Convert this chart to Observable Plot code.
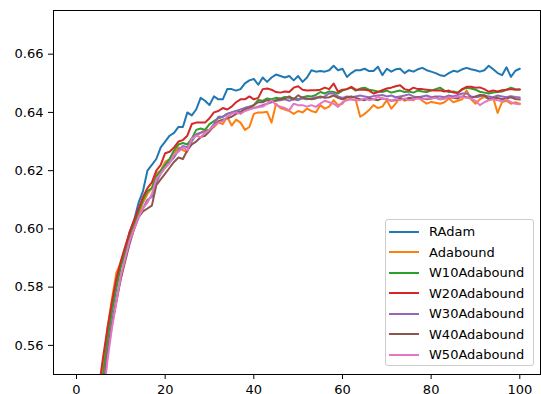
<!DOCTYPE html>
<html><head><meta charset="utf-8">
<script src="https://cdn.jsdelivr.net/npm/d3@7"></script>
<script src="https://cdn.jsdelivr.net/npm/@observablehq/plot@0.6"></script>
<style>
body{margin:0;background:#fff;}
#wrap{position:relative;width:541px;height:394px;overflow:hidden;font-family:"DejaVu Sans",sans-serif;}
#legend{position:absolute;left:385px;top:219px;width:147px;height:145px;border:1px solid #cccccc;border-radius:3px;background:rgba(255,255,255,0.8);padding:0;box-sizing:content-box;}
.row{position:absolute;left:3px;height:20px;display:flex;align-items:center;font-size:13px;color:#000;white-space:nowrap;}
.sw{width:30px;height:2px;margin-right:10px;}
</style>
</head><body><div id="wrap"></div>
<script>
const epochs = d3.range(0, 101);
const seriesNames = ["RAdam","Adabound","W10Adabound","W20Adabound","W30Adabound","W40Adabound","W50Adabound"];
const colors = ["#1f77b4","#ff7f0e","#2ca02c","#d62728","#9467bd","#8c564b","#e377c2"];
const xTicks = [0,20,40,60,80,100];
const yTicks = [0.56,0.58,0.60,0.62,0.64,0.66];

const radam = [0.30,0.40,0.46,0.50,0.52,0.538,0.551,0.563,0.572,0.580,0.588,0.593,0.599,0.603,0.609,0.613,0.620,0.622,0.624,0.628,0.630,0.632,0.633,0.635,0.635,0.640,0.639,0.641,0.645,0.644,0.6425,0.6455,0.6445,0.6445,0.648,0.648,0.6475,0.648,0.650,0.651,0.6515,0.6495,0.652,0.6505,0.652,0.653,0.6525,0.652,0.6525,0.651,0.6525,0.6505,0.652,0.6545,0.654,0.6542,0.654,0.6545,0.656,0.6545,0.655,0.6522,0.6535,0.6545,0.6545,0.655,0.6542,0.6542,0.6557,0.6528,0.655,0.654,0.6548,0.655,0.6535,0.6545,0.654,0.6548,0.6553,0.6545,0.654,0.6535,0.6528,0.6525,0.6535,0.6543,0.654,0.6548,0.6553,0.6548,0.6545,0.654,0.6545,0.656,0.6548,0.6535,0.6528,0.6555,0.6522,0.6543,0.655];
const adabound = [0.31,0.41,0.47,0.505,0.525,0.54,0.553,0.566,0.576,0.585,0.5885,0.590,0.597,0.601,0.605,0.609,0.612,0.614,0.619,0.620,0.623,0.624,0.626,0.628,0.627,0.6265,0.631,0.632,0.633,0.634,0.634,0.635,0.6365,0.636,0.6385,0.6355,0.6375,0.6365,0.634,0.635,0.6395,0.640,0.640,0.6402,0.6365,0.643,0.6415,0.641,0.6405,0.6395,0.6405,0.640,0.6413,0.6405,0.640,0.6425,0.6413,0.642,0.6442,0.6425,0.643,0.6453,0.6445,0.6442,0.6385,0.6395,0.6408,0.6425,0.6415,0.642,0.6442,0.6413,0.643,0.6453,0.644,0.6445,0.6442,0.6453,0.644,0.643,0.6436,0.6433,0.643,0.6435,0.6448,0.6435,0.644,0.6445,0.6476,0.6445,0.643,0.6445,0.6453,0.6448,0.645,0.6398,0.6436,0.644,0.643,0.6435,0.643];
const w10 = [0.30,0.40,0.46,0.50,0.52,0.537,0.550,0.562,0.572,0.580,0.587,0.592,0.598,0.602,0.606,0.610,0.613,0.614,0.618,0.620,0.622,0.624,0.627,0.629,0.6295,0.629,0.631,0.634,0.6345,0.634,0.636,0.637,0.638,0.6385,0.6395,0.640,0.6405,0.640,0.6415,0.642,0.6425,0.6443,0.644,0.6448,0.6445,0.645,0.6448,0.6453,0.645,0.6448,0.6445,0.6452,0.6456,0.6455,0.646,0.647,0.6465,0.6472,0.647,0.6465,0.6475,0.648,0.6485,0.6475,0.6482,0.6485,0.6478,0.6475,0.6472,0.647,0.6475,0.6468,0.6472,0.6475,0.647,0.6472,0.6468,0.6475,0.6472,0.647,0.6475,0.648,0.6485,0.6475,0.647,0.6472,0.6468,0.6478,0.6485,0.6482,0.6478,0.6471,0.6468,0.6465,0.6468,0.647,0.6472,0.6478,0.6485,0.648,0.6479];
const w20 = [0.32,0.42,0.48,0.51,0.53,0.545,0.556,0.566,0.575,0.583,0.589,0.594,0.599,0.603,0.607,0.611,0.614,0.616,0.620,0.622,0.626,0.6265,0.628,0.630,0.6305,0.632,0.636,0.6365,0.6365,0.6365,0.638,0.640,0.6405,0.6415,0.641,0.642,0.6435,0.6445,0.6445,0.6455,0.6445,0.645,0.648,0.6482,0.6478,0.647,0.6468,0.6472,0.647,0.6485,0.649,0.6478,0.6475,0.6476,0.6476,0.6478,0.6485,0.648,0.6499,0.6471,0.6478,0.648,0.6488,0.6478,0.6478,0.6478,0.6475,0.6465,0.647,0.6476,0.6482,0.6485,0.649,0.6493,0.648,0.6476,0.6485,0.648,0.648,0.6478,0.6476,0.6475,0.6476,0.6472,0.6475,0.6468,0.6467,0.648,0.6488,0.6488,0.6485,0.6486,0.648,0.6471,0.6475,0.6472,0.6476,0.6478,0.648,0.6478,0.6479];
const w30 = [0.29,0.39,0.45,0.49,0.512,0.53,0.545,0.558,0.568,0.576,0.583,0.590,0.596,0.600,0.604,0.607,0.610,0.611,0.616,0.619,0.621,0.623,0.6245,0.627,0.6285,0.628,0.630,0.6325,0.633,0.6335,0.634,0.636,0.6385,0.6385,0.6395,0.640,0.6405,0.641,0.6415,0.642,0.6415,0.642,0.6425,0.643,0.6435,0.644,0.6442,0.6445,0.644,0.6445,0.6442,0.6448,0.6445,0.6448,0.6452,0.645,0.6455,0.6465,0.6465,0.6455,0.645,0.6455,0.6452,0.6455,0.6458,0.6455,0.6452,0.6456,0.6458,0.646,0.6455,0.6458,0.6452,0.6455,0.6458,0.6462,0.6455,0.6452,0.6455,0.6458,0.6452,0.6455,0.6455,0.6452,0.6458,0.6455,0.646,0.6465,0.6465,0.6455,0.6452,0.6455,0.6458,0.6455,0.6452,0.6458,0.6455,0.6452,0.6456,0.6453,0.6451];
const w40 = [0.29,0.39,0.45,0.49,0.51,0.528,0.543,0.557,0.567,0.575,0.583,0.589,0.595,0.600,0.604,0.606,0.607,0.608,0.615,0.617,0.619,0.621,0.623,0.6245,0.624,0.627,0.629,0.630,0.6315,0.632,0.6335,0.6355,0.637,0.6375,0.638,0.6385,0.6395,0.640,0.641,0.6415,0.6425,0.6435,0.6435,0.6442,0.6438,0.6442,0.6445,0.6448,0.6455,0.6445,0.6459,0.645,0.6448,0.6445,0.6448,0.6455,0.645,0.6452,0.6458,0.645,0.6445,0.6452,0.6455,0.645,0.6445,0.6442,0.6448,0.6445,0.6442,0.6448,0.6445,0.644,0.6442,0.6448,0.6445,0.645,0.6448,0.6452,0.6448,0.6445,0.6448,0.6452,0.6445,0.6448,0.6452,0.645,0.6448,0.6455,0.6452,0.645,0.6455,0.646,0.6459,0.6445,0.6448,0.645,0.6445,0.6448,0.6452,0.6446,0.6444];
const w50 = [0.29,0.39,0.45,0.49,0.51,0.527,0.541,0.555,0.566,0.575,0.584,0.590,0.596,0.600,0.604,0.607,0.609,0.612,0.617,0.619,0.621,0.6225,0.6255,0.6265,0.628,0.627,0.631,0.632,0.6315,0.633,0.634,0.6355,0.6365,0.637,0.6385,0.6395,0.640,0.6395,0.6405,0.641,0.6415,0.6418,0.642,0.643,0.6442,0.6425,0.642,0.6415,0.6408,0.643,0.6425,0.6425,0.642,0.6425,0.6419,0.643,0.644,0.6435,0.643,0.6419,0.6435,0.6442,0.6445,0.6442,0.6442,0.6448,0.6442,0.6445,0.6453,0.6448,0.6445,0.644,0.6445,0.6442,0.6448,0.6442,0.6445,0.6448,0.6445,0.6448,0.6448,0.645,0.6445,0.6448,0.6452,0.645,0.6455,0.6453,0.645,0.6448,0.644,0.6425,0.6435,0.6442,0.6445,0.6442,0.6438,0.6445,0.6435,0.643,0.6428];

const seriesValues = [radam, adabound, w10, w20, w30, w40, w50];
const data = seriesNames.flatMap((name, i) => seriesValues[i].map((v, j) => ({epoch: epochs[j], acc: v, series: name})));

const plot = Plot.plot({
  width: 541, height: 394,
  marginLeft: 53, marginRight: 1, marginTop: 10, marginBottom: 20,
  style: {fontFamily: "DejaVu Sans", fontSize: "13px", color: "black", background: "white", overflow: "visible"},
  x: {domain: [-5.19, 104.67]},
  y: {domain: [0.55, 0.675]},
  color: {domain: seriesNames, range: colors},
  marks: [
    Plot.line(data, {x: "epoch", y: "acc", z: "series", stroke: "series", strokeWidth: 2, clip: true}),
    Plot.frame({stroke: "black", strokeWidth: 1}),
    Plot.axisX({ticks: xTicks, tickSize: 5, tickPadding: 5, label: null, fontSize: 13}),
    Plot.axisY({ticks: yTicks, tickFormat: d3.format(".2f"), tickSize: 5, tickPadding: 5, label: null, fontSize: 13})
  ]
});
const wrap = document.getElementById("wrap");
wrap.appendChild(plot);

const legend = document.createElement("div");
legend.id = "legend";
seriesNames.forEach((name, i) => {
  const row = document.createElement("div");
  row.className = "row";
  row.style.top = (1.5 + i * 20.5) + "px";
  const sw = document.createElement("span");
  sw.className = "sw";
  sw.style.background = colors[i];
  const t = document.createElement("span");
  t.textContent = name;
  row.appendChild(sw); row.appendChild(t);
  legend.appendChild(row);
});
wrap.appendChild(legend);
</script>
</body></html>
